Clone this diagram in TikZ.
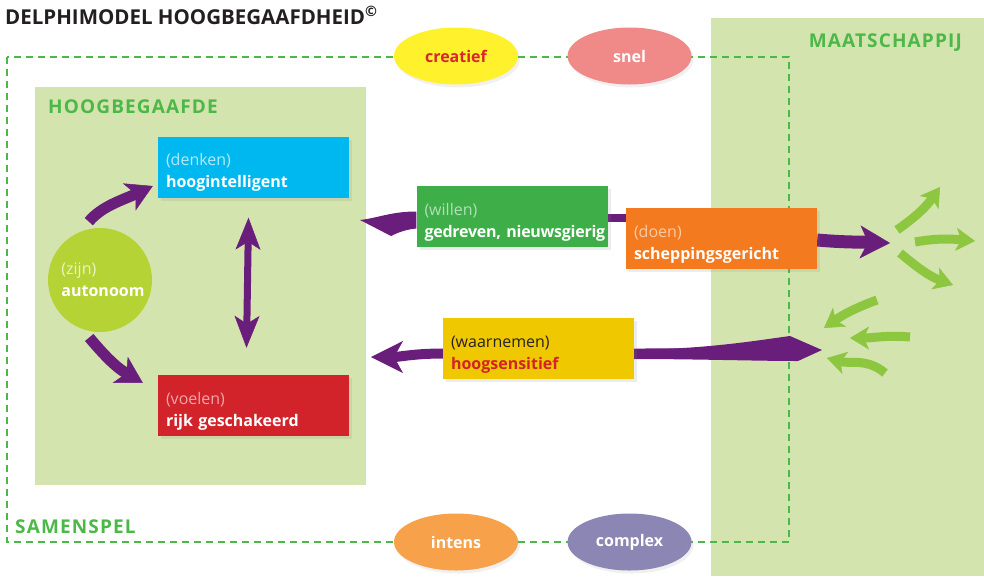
\documentclass[tikz,border=0pt]{standalone}
\usepackage{fontspec}
\setmainfont{Open Sans}
\usetikzlibrary{arrows.meta,shadows,shapes.geometric,calc}
\definecolor{titlec}{HTML}{231F20}
\definecolor{bgg}{HTML}{D4E4AF}
\definecolor{dgreen}{HTML}{4CB848}
\definecolor{purp}{HTML}{6A1E7B}
\definecolor{garr}{HTML}{8DC63F}
\definecolor{bblue}{HTML}{00B8F0}
\definecolor{bred}{HTML}{D2232A}
\definecolor{bgreen}{HTML}{3EAE49}
\definecolor{borange}{HTML}{F47A20}
\definecolor{byellow}{HTML}{EFC800}
\definecolor{lime}{HTML}{B5D334}
\definecolor{eyellow}{HTML}{FFF12C}
\definecolor{ered}{HTML}{D7282F}
\definecolor{epink}{HTML}{F08A88}
\definecolor{eorange}{HTML}{F7A14A}
\definecolor{epurple}{HTML}{8C86B5}
\definecolor{txtdark}{HTML}{2A2020}
\pgfdeclarelayer{bg}
\pgfdeclarelayer{mid}
\pgfsetlayers{bg,mid,main}
\tikzset{
  boxs/.style={rectangle, minimum width=191pt, minimum height=61pt, text width=175pt,
    inner xsep=8pt, inner ysep=0pt, align=left, text=white,
    font=\fontsize{16}{22}\selectfont,
    execute at begin node={\rule{0pt}{23pt}},
    drop shadow={shadow xshift=3pt, shadow yshift=-3pt, opacity=.15}},
  ell/.style={ellipse, minimum width=124pt, minimum height=57pt, inner sep=0pt,
    text=white, font=\fontsize{16}{20}\selectfont\bfseries,
    drop shadow={shadow xshift=2pt, shadow yshift=-3pt, opacity=.12}},
  heading/.style={font=\fontsize{19}{22}\selectfont\bfseries\addfontfeature{LetterSpace=6}, text=dgreen, inner sep=0pt},
  dashg/.style={draw=dgreen, line width=2pt, dash pattern=on 7pt off 5pt},
  parrow/.style={draw=purp, line width=11pt,
    -{Stealth[length=26pt,width=30pt,inset=7pt,line width=0.5pt]}},
  dblarrow/.style={draw=purp, line width=7pt,
    {Stealth[length=32pt,width=25pt,inset=8pt,line width=0.5pt]}-{Stealth[length=32pt,width=25pt,inset=8pt,line width=0.5pt]}},
  bigarrow/.style={draw=purp, line width=13pt,
    -{Stealth[length=30pt,width=33pt,inset=8pt,line width=0.5pt]}},
  garrow/.style={draw=garr, line width=9pt,
    -{Stealth[length=19pt,width=23pt,inset=5pt,line width=0.5pt]}},
}
\begin{document}
\begin{tikzpicture}[x=1pt,y=1pt]
\useasboundingbox (0,0) rectangle (984,-576);

% title and headings
\node[anchor=base west, inner sep=0pt, text=titlec, font=\fontsize{20.5}{24}\selectfont\bfseries]
  (title) at (5,-24) {DELPHIMODEL HOOGBEGAAFDHEID\textsuperscript{\textcopyright}};
\node[heading, anchor=base west] (hoogt) at (48,-113) {HOOGBEGAAFDE};
\node[heading, anchor=base east] (maatt) at (962,-47) {MAATSCHAPPIJ};
\node[heading, anchor=base west] (samt) at (15,-533) {SAMENSPEL};

% boxes
\node[boxs, fill=bblue] (blue) at (253.5,-167)
  {{\color{white!70!bblue}(denken)}\\\textbf{hoogintelligent}};
\node[boxs, fill=bred] (red) at (253.5,-405.5)
  {{\color{white!60!bred}(voelen)}\\\textbf{rijk geschakeerd}};
\node[boxs, fill=bgreen] (green) at (512,-216.5)
  {{\color{white!60!bgreen}(willen)}\\\mbox{\addfontfeature{LetterSpace=-1.5}\textbf{gedreven, nieuwsgierig}}};
\node[boxs, fill=borange] (orange) at (721.5,-238.5)
  {{\color{white!60!borange}(doen)}\\\textbf{scheppingsgericht}};
\node[boxs, fill=byellow] (yellow) at (538.5,-348.5)
  {{\color{txtdark}(waarnemen)}\\\textbf{\color{bred}hoogsensitief}};
\node[circle, fill=lime, minimum size=104pt, inner sep=0pt, align=left, text=white,
  font=\fontsize{16}{22}\selectfont] (auto) at (100,-280)
  {{\color{white!75!lime}(zijn)}\\\textbf{autonoom}\hspace*{-6pt}};

% ellipses
\node[ell, fill=eyellow, text=ered] (creatief) at (456,-56) {creatief};
\node[ell, fill=epink] (snel) at (629.5,-56) {snel};
\node[ell, fill=eorange] (intens) at (456,-542) {intens};
\node[ell, fill=epurple] (complex) at (629.5,-542) {complex};

% backgrounds
\begin{pgfonlayer}{bg}
  \fill[bgg] (711,-18) rectangle (984,-576);
  \fill[bgg] (35,-87) rectangle (366,-485);
  \draw[dashg] (7,-57) rectangle (789,-542);
\end{pgfonlayer}

% purple connectors
\coordinate (t4) at (360,-220);
\coordinate (h4) at (890,-243);
\coordinate (t5) at (822,-350);
\coordinate (h5) at (371,-357);
\begin{pgfonlayer}{mid}
  \draw[parrow, shorten <=13pt] (auto.112) to[out=50,in=205] ([shift={(-5pt,-19pt)}]blue.west);
  \draw[parrow, shorten <=11pt] (auto.250) to[out=-50,in=150] ([shift={(-15pt,-8pt)}]red.north west);
  \draw[dblarrow] ([shift={(-5pt,-20pt)}]blue.south) -- ([shift={(-7pt,27pt)}]red.north);
  % tail of the willen/doen arrow (blade pointing left)
  \fill[purp] ([yshift=5pt]green.west) .. controls +(-25pt,0pt) and +(18pt,2pt) .. (t4)
    -- ++(31pt,-16pt) .. controls +(8pt,4pt) and +(-10pt,-1pt) .. ([yshift=-12pt]green.west) -- cycle;
  \draw[draw=purp, line width=8pt] ([yshift=2pt]green.east |- t4) -- ([yshift=2pt]orange.west |- t4);
  \draw[bigarrow] ([yshift=-1.5pt]orange.east) to[out=-5,in=178] (h4);
  % waarnemen arrow with tapered tail
  \draw[draw=purp, line width=10pt, shorten <=24pt,
    -{Stealth[length=32pt,width=32pt,inset=9pt,line width=0.5pt]}]
    (t5) to[out=182,in=0] ([yshift=-5pt]yellow.east) -- ([yshift=-5pt]yellow.west) to[out=180,in=0] (h5);
  \fill[purp] ([yshift=-1pt]yellow.east) .. controls +(70pt,0pt) and +(-30pt,-4pt) .. ([shift={(-32pt,14pt)}]t5)
    -- (t5) -- ++(-24pt,-11pt) .. controls +(-40pt,0pt) and +(60pt,0pt) .. ([yshift=-10.5pt]yellow.east) -- cycle;
  % green arrows in the society area
  \coordinate (g1s) at (897,-230); \coordinate (g1e) at (940,-187);
  \coordinate (g2s) at (915,-242); \coordinate (g2e) at (975,-241);
  \coordinate (g3s) at (900,-253); \coordinate (g3e) at (953,-285);
  \coordinate (g4s) at (877,-300); \coordinate (g4e) at (824,-328);
  \coordinate (g5s) at (910,-337); \coordinate (g5e) at (850,-338);
  \coordinate (g6s) at (885,-373); \coordinate (g6e) at (827,-358);
  \draw[garrow] (g1s) to[out=35,in=235] (g1e);
  \draw[garrow] (g2s) to[out=10,in=175] (g2e);
  \draw[garrow] (g3s) to[out=-40,in=160] (g3e);
  \draw[garrow] (g4s) to[out=200,in=35] (g4e);
  \draw[garrow] (g5s) to[out=175,in=0] (g5e);
  \draw[garrow] (g6s) to[out=140,in=-15] (g6e);
\end{pgfonlayer}
\end{tikzpicture}
\end{document}
